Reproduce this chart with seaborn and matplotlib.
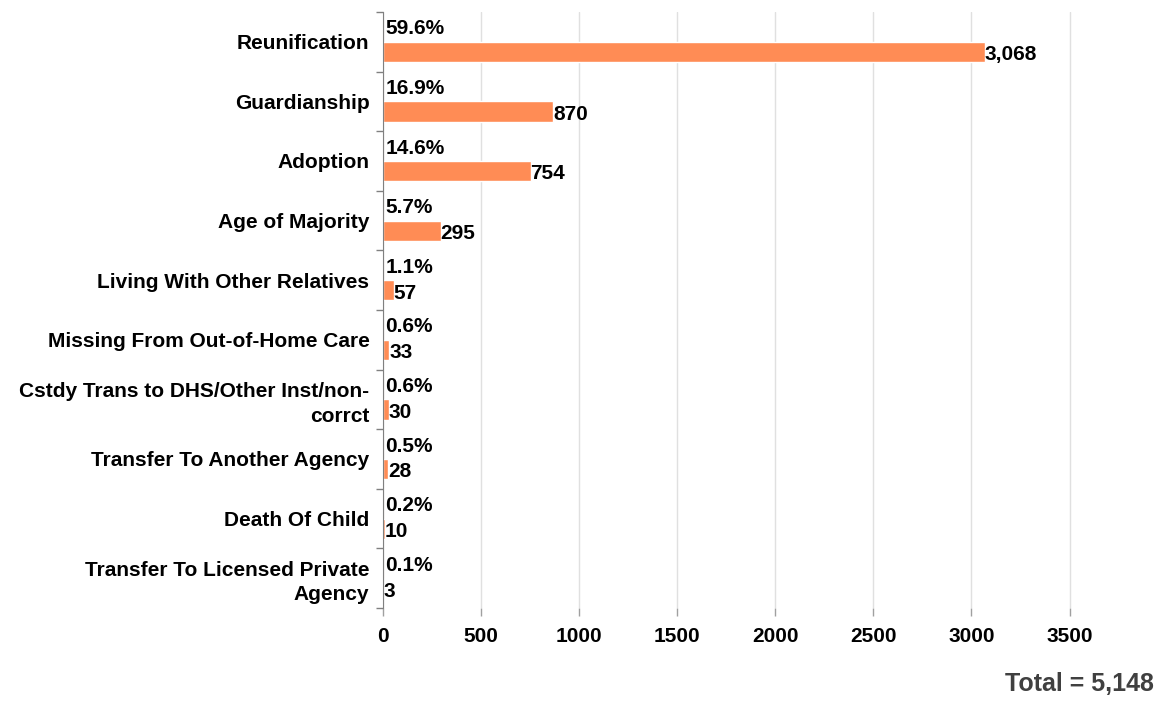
import matplotlib
matplotlib.use("Agg")
import matplotlib.pyplot as plt
from matplotlib import font_manager
import seaborn as sns
import pandas as pd
import numpy as np

categories = [
    "Reunification",
    "Guardianship",
    "Adoption",
    "Age of Majority",
    "Living With Other Relatives",
    "Missing From Out-of-Home Care",
    "Cstdy Trans to DHS/Other Inst/non-\ncorrct",
    "Transfer To Another Agency",
    "Death Of Child",
    "Transfer To Licensed Private\nAgency",
]
counts = [3068, 870, 754, 295, 57, 33, 30, 28, 10, 3]
percents = [59.6, 16.9, 14.6, 5.7, 1.1, 0.6, 0.6, 0.5, 0.2, 0.1]
total_label = "Total = 5,148"

# percent series is drawn as a share (0-1) on the count axis, so it is only a sliver
df = pd.DataFrame({
    "category": categories * 2,
    "series": ["Percent"] * len(categories) + ["Count"] * len(categories),
    "value": [p / 100 for p in percents] + counts,
})

sns.set_style("white")
plt.rcParams["font.family"] = ["Liberation Sans", "DejaVu Sans"]
plt.rcParams["font.weight"] = "bold"
plt.rcParams["text.color"] = "black"
plt.rcParams["xtick.labelcolor"] = "black"
plt.rcParams["ytick.labelcolor"] = "black"

names = {f.name for f in font_manager.fontManager.ttflist}
tick_family = ["Liberation Sans Narrow"] if "Liberation Sans Narrow" in names else ["Liberation Sans"]

fig = plt.figure(figsize=(11.63, 7.02), dpi=100)
ax = fig.add_axes([0.329, 0.134, 0.616, 0.849])

sns.barplot(data=df, y="category", x="value", hue="series",
            hue_order=["Percent", "Count"], order=categories,
            palette=["#FDDBBE", "#FF8C55"], width=0.68, gap=0.0,
            orient="h", ax=ax, legend=False, saturation=1)

for bar in ax.containers[0]:
    bar.set_edgecolor("#FDDBBE")
    bar.set_linewidth(1.5)

pct_labels = ax.bar_label(ax.containers[0], labels=[f"{p:.1f}%" for p in percents],
                          padding=2, fontsize=15, fontweight="bold", color="black")
cnt_labels = ax.bar_label(ax.containers[1], labels=[f"{c:,}" for c in counts],
                          padding=0, fontsize=15, fontweight="bold", color="black")
# small vertical nudge, in points
for t in pct_labels:
    t.xyann = (t.xyann[0], 2)
for t in cnt_labels:
    t.xyann = (t.xyann[0], -2)

ax.set_xlim(0, 3650)
ax.set_ylim(len(categories) - 0.5, -0.5)
ax.set_xticks(np.arange(0, 3501, 500))
ax.set_xlabel("")
ax.set_ylabel("")
ax.grid(axis="x", color="#E0E0E0", linewidth=1)
ax.set_axisbelow(True)

for s in ["top", "right", "bottom"]:
    ax.spines[s].set_visible(False)
ax.spines["left"].set_color("#808080")

ax.tick_params(axis="y", which="major", left=False, labelsize=15, pad=6)
ax.set_yticks(np.arange(-0.5, len(categories)), minor=True)
ax.tick_params(axis="y", which="minor", left=True, length=5, width=1, color="#808080")
ax.tick_params(axis="x", bottom=True, length=6, width=1, color="#A0A0A0", labelsize=15, pad=8)
for lbl in ax.get_yticklabels():
    lbl.set_fontweight("bold")
    lbl.set_multialignment("right")
    lbl.set_linespacing(1.35)
for lbl in ax.get_xticklabels():
    lbl.set_fontweight("bold")
    lbl.set_family(tick_family)

fig.text(0.992, 0.008, total_label, ha="right", va="bottom",
         fontsize=18, fontweight="bold", color="#404040")

fig.savefig("out.png", dpi=100)
